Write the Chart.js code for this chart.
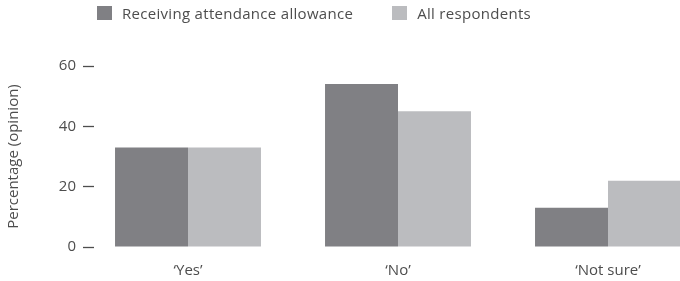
<!DOCTYPE html>
<html>
<head>
<meta charset="utf-8">
<script src="https://cdn.jsdelivr.net/npm/chart.js@4"></script>
<style>
  html, body { margin: 0; padding: 0; background: #fff; }
  body { width: 680px; height: 281px; overflow: hidden; position: relative; font-family: "Open Sans", sans-serif; }
  #legend { position: absolute; left: 97px; top: 3px; display: flex; align-items: center; font-size: 15px; letter-spacing: 0.3px; color: #4d4d4d; }
  #legend .item { display: flex; align-items: center; margin-right: 39px; }
  #legend .swatch { width: 15px; height: 14px; margin-right: 10px; }
  #wrap { position: absolute; left: 0; top: 0; width: 680px; height: 281px; overflow: hidden; }
</style>
</head>
<body>
<div id="wrap"><canvas id="opinionChart" width="713" height="281"></canvas></div>
<div id="legend"></div>
<script>
const categories = ["\u2018Yes\u2019", "\u2018No\u2019", "\u2018Not sure\u2019"]
const attendanceAllowance = [33, 54, 13]
const allRespondents = [33, 45, 22]
const yTicks = [0, 20, 40, 60]

const textColor = "#4d4d4d"

const data = {
  labels: categories,
  datasets: [
    {
      label: "Receiving attendance allowance",
      data: attendanceAllowance,
      backgroundColor: "#808084",
      categoryPercentage: 0.695,
      barPercentage: 1.0,
    },
    {
      label: "All respondents",
      data: allRespondents,
      backgroundColor: "#bbbcbf",
      categoryPercentage: 0.695,
      barPercentage: 1.0,
    },
  ],
}

const config = {
  type: "bar",
  data: data,
  options: {
    responsive: false,
    animation: false,
    devicePixelRatio: 1,
    layout: {
      padding: { top: 66, right: 0, bottom: 0, left: 0 },
    },
    plugins: {
      legend: { display: false },
      tooltip: { enabled: false },
    },
    scales: {
      x: {
        afterFit: (scale) => {
          scale.height = 34
        },
        grid: { display: false, drawTicks: false },
        border: { display: false },
        ticks: {
          color: textColor,
          padding: 15,
          font: { family: "Open Sans", size: 15 },
        },
      },
      y: {
        min: 0,
        max: 60,
        afterBuildTicks: (scale) => {
          scale.ticks = yTicks.map((v) => ({ value: v }))
        },
        afterFit: (scale) => {
          scale.width = 83
        },
        grid: {
          drawOnChartArea: false,
          tickLength: -11,
          tickColor: textColor,
          tickWidth: 1.3,
        },
        border: { display: false },
        ticks: {
          color: textColor,
          padding: 18,
          font: { family: "Open Sans", size: 15 },
        },
        title: {
          display: true,
          text: "Percentage (opinion)",
          color: textColor,
          padding: { top: 5, bottom: 0 },
          font: { family: "Open Sans", size: 15 },
        },
      },
    },
  },
}

const opinionChart = new Chart(document.getElementById("opinionChart"), config)

// simple html legend, built from the datasets
const legendEl = document.getElementById("legend")
data.datasets.forEach((ds) => {
  const item = document.createElement("div")
  item.className = "item"
  const sw = document.createElement("span")
  sw.className = "swatch"
  sw.style.background = ds.backgroundColor
  const txt = document.createElement("span")
  txt.textContent = ds.label
  item.appendChild(sw)
  item.appendChild(txt)
  legendEl.appendChild(item)
})
</script>
</body>
</html>
